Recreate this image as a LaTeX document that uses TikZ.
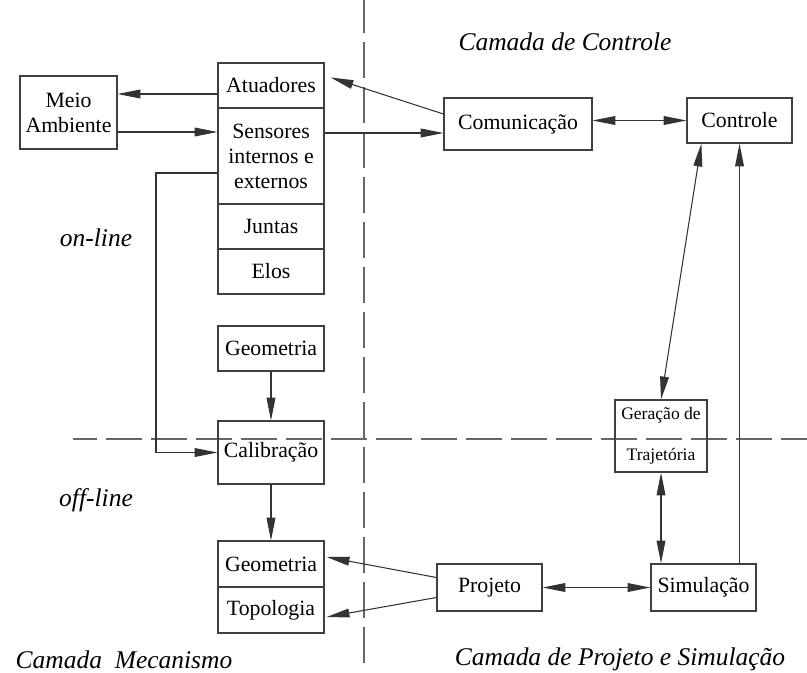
\documentclass[tikz,border=0pt]{standalone}
\usepackage{fontspec}
\setmainfont{Liberation Serif}
\usetikzlibrary{arrows.meta,calc}

\tikzset{
  bloco/.style={draw=black!75, line width=0.7pt, inner sep=0pt, align=center,
    minimum width=21.2mm, font=\fontsize{12.4}{14.2}\selectfont},
  seta/.style={draw=black!80, line width=0.6pt, -{Triangle[length=13pt,width=5pt]}},
  setas/.style={seta, {Triangle[length=13pt,width=5pt]}-{Triangle[length=13pt,width=5pt]}},
  camada/.style={font=\fontsize{14.5}{17}\selectfont\itshape},
  divisa/.style={draw=black!60, line width=0.6pt, dash pattern=on 7.2mm off 1.8mm},
}

\begin{document}
\begin{tikzpicture}[x=2mm,y=2mm]

\useasboundingbox (0,0) rectangle (80.7,67.2);

% linhas divisorias
\draw[divisa] (36.4,67.5) -- (36.4,0);
\draw[divisa, dash phase=2.4mm] (7.3,23.3) -- (80.7,23.3);

% camada mecanismo
\node[bloco, minimum width=19.4mm, minimum height=14.6mm] (meio) at (6.85,55.95) {Meio\\Ambiente};
\node[bloco, minimum height=9mm] (atu) at (27.1,58.65) {Atuadores};
\node[bloco, minimum height=19.2mm] (sen) at (27.1,51.6) {Sensores\\internos e\\externos};
\node[bloco, minimum height=9mm] (jun) at (27.1,44.55) {Juntas};
\node[bloco, minimum height=9mm] (elo) at (27.1,40.05) {Elos};

\node[bloco, minimum height=9mm] (geo1) at (27.1,32.35) {Geometria};
\node[bloco, minimum height=12.6mm] (cal) at (27.1,21.95) {Calibração};
\node[bloco, minimum height=9.2mm] (geo2) at (27.1,10.8) {Geometria};
\node[bloco, minimum height=9.2mm] (top) at (27.1,6.2) {Topologia};

% camada de controle
\node[bloco, minimum width=29.6mm, minimum height=10.4mm] (com) at (51.8,54.8) {Comunicação};
\node[bloco, minimum width=21mm, minimum height=9mm] (ctl) at (73.95,55.15) {Controle};
\node[bloco, minimum width=18.4mm, minimum height=14.4mm,
  font=\fontsize{10}{23.3}\selectfont] (ger) at (66.1,23.6) {Geração de\\Trajetória};

% camada de projeto e simulacao
\node[bloco, minimum width=21mm, minimum height=9.4mm] (proj) at (48.95,8.45) {Projeto};
\node[bloco, minimum width=21mm, minimum height=9.4mm] (sim) at (70.35,8.45) {Simulação};

% setas
\draw[seta] (atu.west |- 0,57.8) -- (meio.east |- 0,57.8);
\draw[seta] (meio.east |- 0,54.0) -- (sen.west |- 0,54.0);
\draw[seta] (sen.east |- 0,53.9) -- (com.west |- 0,53.9);
\draw[seta] ($(com.west)+(0,1.0)$) -- ($(atu.east)+(0.6,0.8)$);
\draw[setas] (com.east |- ctl.west) -- (ctl.west);

\coordinate (canto) at (15.6,49.9);
\draw[seta] (sen.west |- canto) -- (canto) |- (cal.west);

\draw[seta] (geo1.south) -- (cal.north);
\draw[seta] (cal.south) -- (geo2.north);

\draw[seta] ($(proj.west)+(0,1.0)$) -- ($(geo2.east)+(0.2,0.7)$);
\draw[seta] ($(proj.west)+(0,-1.0)$) -- ($(top.east)+(0.2,-0.7)$);
\draw[setas] (proj.east) -- (sim.west);

\draw[setas] (ger.south) -- (ger.south |- sim.north);
\draw[seta] (ctl.south |- sim.north) -- (ctl.south);
\draw[setas] (ger.north) -- ($(ctl.south west)+(1.5,0)$);

% nomes das camadas
\node[camada] (tctl) at (56.5,63.0) {Camada de Controle};
\node[camada] (ton) at (9.6,43.4) {on-line};
\node[camada] (toff) at (9.6,17.2) {off-line};
\node[camada] (tmec) at (12.4,1.2) {Camada\ \ Mecanismo};
\node[camada] (tproj) at (62.0,1.3) {Camada de Projeto e Simulação};

\end{tikzpicture}
\end{document}
